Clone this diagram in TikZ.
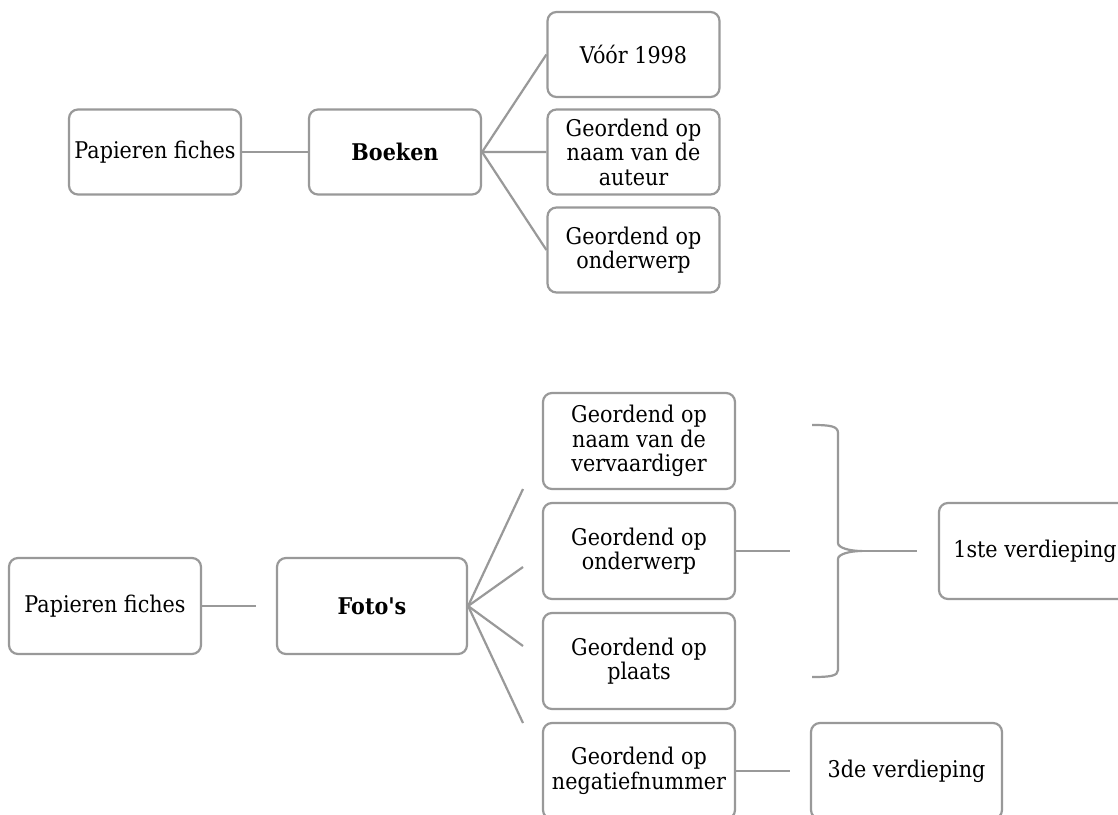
\documentclass[tikz,border=0pt]{standalone}
\usepackage{fontspec}
\newfontfamily\dfont{DejaVu Serif}[FakeStretch=0.9]
\begin{document}
\begin{tikzpicture}[x=1pt,y=-1pt,
  lnk/.style={draw=boxgray,line width=2.2pt},
  bx/.style={draw=boxgray,line width=2.2pt,rounded corners=9pt,fill=white,
    inner sep=0pt,align=center,font=\dfont\fontsize{23}{24.5}\selectfont},
  topbx/.style={bx,minimum width=172pt,minimum height=85pt},
  botbx/.style={bx,minimum width=192pt,minimum height=96pt}]
\definecolor{boxgray}{HTML}{999999}
\useasboundingbox (0,0) rectangle (1118,814);
\clip (0,0) rectangle (1118,814);
\fill[white] (0,0) rectangle (1118,814);
% top part
\node[topbx] (pfA) at (155,152) {Papieren fiches};
\node[topbx] (boeken) at (395,152) {\bfseries Boeken};
\node[topbx] (voor) at (633.5,54.5) {Vóór 1998};
\node[topbx] (naamA) at (633.5,152) {Geordend op\\naam van de\\auteur};
\node[topbx] (ondA) at (633.5,250) {Geordend op\\onderwerp};
\draw[lnk] (pfA.east) -- (boeken.west);
\draw[lnk] (voor.west) -- (boeken.east) -- (naamA.west);
\draw[lnk] (boeken.east) -- (ondA.west);
% bottom part
\node[botbx] (pfB) at (105,606) {Papieren fiches};
\node[botbx,minimum width=190pt] (fotos) at (372,606) {\bfseries Foto's};
\node[botbx] (cN) at (639,441) {Geordend op\\naam van de\\vervaardiger};
\node[botbx] (cO) at (639,551) {Geordend op\\onderwerp};
\node[botbx] (cP) at (639,661) {Geordend op\\plaats};
\node[botbx] (cQ) at (639,771) {Geordend op\\negatiefnummer};
\node[botbx] (eerste) at (1035,551) {1ste verdieping};
\node[botbx,minimum width=191pt] (derde) at (906.5,771) {3de verdieping};
\coordinate (fB) at (256,606);
\coordinate (f1) at (523,489);
\coordinate (f2) at (523,567);
\coordinate (f3) at (523,646);
\coordinate (f4) at (523,723);
\coordinate (oEnd) at (790,551);
\coordinate (qEnd) at (790,771);
\coordinate (tip) at (862,551);
\coordinate (tEnd) at (917,551);
\draw[lnk] (pfB.east) -- (fB);
\draw[lnk] (fotos.east) -- (f1);
\draw[lnk] (fotos.east) -- (f2);
\draw[lnk] (fotos.east) -- (f3);
\draw[lnk] (fotos.east) -- (f4);
\draw[lnk] (cO.east) -- (oEnd);
\draw[lnk] (cQ.east) -- (qEnd);
\draw[lnk,line join=round] (812,425) .. controls (830,425) and (838,426) .. (838,433)
  -- (838,543) .. controls (838,548) and (850,551) .. (tip)
  .. controls (850,551) and (838,554) .. (838,559)
  -- (838,670) .. controls (838,676) and (830,677) .. (812,677);
\draw[lnk] (tip) -- (tEnd);
\end{tikzpicture}
\end{document}
